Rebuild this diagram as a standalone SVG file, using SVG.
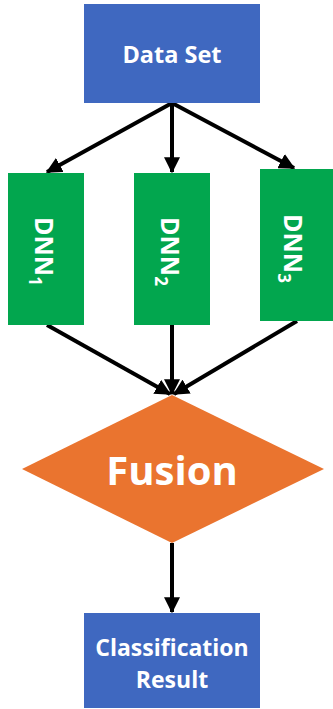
<svg xmlns="http://www.w3.org/2000/svg" width="333" height="709" viewBox="0 0 333 709">
  <style>
    .blue { fill: #3F68C0; }
    .green { fill: #02A64E; }
    .orange { fill: #EA742F; }
    .lbl { fill: #FFFFFF; font-family: "Open Sans", "Liberation Sans", sans-serif; font-weight: 700; }
    .edge { stroke: #000000; stroke-width: 4; fill: none; marker-end: url(#head); }
  </style>
  <defs>
    <marker id="head" markerUnits="userSpaceOnUse" markerWidth="16" markerHeight="16" viewBox="0 0 12 12" refX="11" refY="6" orient="auto">
      <path d="M0,0 L12,6 L0,12 Z" fill="#000000"/>
    </marker>
  </defs>
  <rect width="333" height="709" fill="#FFFFFF"/>

  <!-- connectors -->
  <g id="connectors">
    <line class="edge" x1="172" y1="103" x2="47" y2="172"/>
    <line class="edge" x1="172" y1="103" x2="172" y2="172"/>
    <line class="edge" x1="172" y1="103" x2="294" y2="168"/>
    <line class="edge" x1="47" y1="325" x2="170" y2="394"/>
    <line class="edge" x1="172" y1="325" x2="172" y2="394"/>
    <line class="edge" x1="297" y1="321" x2="174" y2="394"/>
    <line class="edge" x1="172" y1="543" x2="172" y2="612"/>
  </g>

  <!-- source data -->
  <g id="dataset">
    <rect class="blue" x="84" y="4" width="176" height="99"/>
    <text class="lbl" x="172" y="63" font-size="23.5" text-anchor="middle">Data Set</text>
  </g>

  <!-- three networks -->
  <g id="dnn1">
    <rect class="green" x="8" y="173" width="76" height="152"/>
    <text class="lbl" font-size="25" transform="translate(35,217) rotate(90)">DNN<tspan font-size="17" dy="6">1</tspan></text>
  </g>
  <g id="dnn2">
    <rect class="green" x="134" y="173" width="76" height="152"/>
    <text class="lbl" font-size="25" transform="translate(161,217) rotate(90)">DNN<tspan font-size="17" dy="6">2</tspan></text>
  </g>
  <g id="dnn3">
    <rect class="green" x="260" y="169" width="76" height="152"/>
    <text class="lbl" font-size="25" transform="translate(284,214) rotate(90)">DNN<tspan font-size="17" dy="6">3</tspan></text>
  </g>

  <!-- fusion step -->
  <g id="fusion">
    <polygon class="orange" points="172,395 324,469 172,543 22,469"/>
    <text class="lbl" x="172" y="485" font-size="40" text-anchor="middle">Fusion</text>
  </g>

  <!-- output -->
  <g id="result">
    <rect class="blue" x="84" y="613" width="176" height="95"/>
    <text class="lbl" x="172" y="656" font-size="23" text-anchor="middle">Classification</text>
    <text class="lbl" x="172" y="688" font-size="23" text-anchor="middle">Result</text>
  </g>
</svg>
